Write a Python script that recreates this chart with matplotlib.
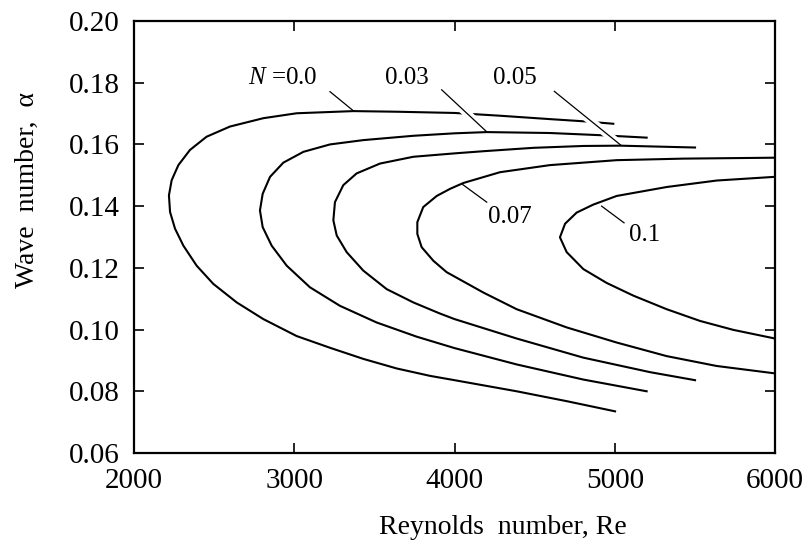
import matplotlib
matplotlib.use("Agg")
import matplotlib.pyplot as plt

plt.rcParams['font.family'] = ['Liberation Serif', 'DejaVu Serif']
plt.rcParams['mathtext.fontset'] = 'custom'
plt.rcParams['mathtext.rm'] = 'Liberation Serif'
plt.rcParams['mathtext.it'] = 'Liberation Serif:italic'

# Neutral stability curves (Re, alpha), traced lower branch -> nose -> upper branch
re_n000 = [5002, 4700, 4388, 4000, 3847, 3639, 3431, 3223, 3015, 2807, 2641, 2495, 2391, 2308, 2256, 2225,
           2218, 2235, 2277, 2349, 2453, 2599, 2807, 3015, 3369, 3639, 4000, 4284, 4596, 4804, 4991]
al_n000 = [0.0735, 0.0768, 0.0800, 0.0836, 0.0850, 0.0874, 0.0905, 0.0941, 0.0979, 0.1034, 0.1088, 0.1148, 0.1207, 0.1272, 0.1327, 0.1381,
           0.1435, 0.1484, 0.1533, 0.1582, 0.1625, 0.1658, 0.1685, 0.1701, 0.1708, 0.1706, 0.1702, 0.1693, 0.1682, 0.1675, 0.1667]

re_n003 = [5199, 4804, 4388, 4000, 3764, 3514, 3285, 3098, 2953, 2859, 2803, 2786, 2803, 2849, 2932, 3057, 3223,
           3431, 3743, 4000, 4201, 4596, 4908, 5199]
al_n003 = [0.0800, 0.0838, 0.0887, 0.0940, 0.0977, 0.1023, 0.1077, 0.1137, 0.1207, 0.1272, 0.1332, 0.1386, 0.1440, 0.1495, 0.1541, 0.1576, 0.1600,
           0.1614, 0.1628, 0.1636, 0.1640, 0.1637, 0.1630, 0.1622]

re_n005 = [5501, 5220, 4804, 4388, 4000, 3909, 3743, 3577, 3431, 3327, 3265, 3244, 3254, 3306, 3389, 3535, 3743,
           4000, 4180, 4492, 4804, 5033, 5501]
al_n005 = [0.0836, 0.0862, 0.0909, 0.0971, 0.1034, 0.1052, 0.1088, 0.1131, 0.1191, 0.1251, 0.1305, 0.1354, 0.1413, 0.1468, 0.1506, 0.1538, 0.1560,
           0.1571, 0.1578, 0.1589, 0.1595, 0.1596, 0.1590]

re_n007 = [6000, 5636, 5324, 5012, 4700, 4388, 4180, 3951, 3868, 3795, 3768, 3768, 3805, 3889, 3972, 4055, 4284,
           4596, 5012, 5428, 6000]
al_n007 = [0.0858, 0.0882, 0.0914, 0.0958, 0.1007, 0.1066, 0.1120, 0.1186, 0.1223, 0.1267, 0.1310, 0.1348, 0.1397, 0.1433, 0.1456, 0.1475, 0.1510,
           0.1533, 0.1549, 0.1554, 0.1557]

re_n010 = [6000, 5740, 5532, 5324, 5116, 4950, 4804, 4700, 4658, 4690, 4762, 4866, 5012, 5324, 5636, 6000]
al_n010 = [0.0971, 0.0999, 0.1028, 0.1066, 0.1110, 0.1151, 0.1196, 0.1251, 0.1299, 0.1343, 0.1379, 0.1405, 0.1433, 0.1462, 0.1483, 0.1495]

curves = [(re_n000, al_n000), (re_n003, al_n003), (re_n005, al_n005), (re_n007, al_n007), (re_n010, al_n010)]

# Curve labels: text, text position, leader line start/end
label_texts = [r"$N$ =0.0", "0.03", "0.05", "0.07", "0.1"]
label_re = [2926, 3700, 4374, 4346, 5189]
label_al = [0.1815, 0.1815, 0.1815, 0.1365, 0.1305]
leader_re = [(3223, 3369), (3920, 4201), (4623, 5037), (4051, 4201), (4918, 5058)]
leader_al = [(0.1771, 0.1709), (0.1777, 0.1641), (0.1772, 0.1598), (0.1470, 0.1413), (0.1400, 0.1346)]
# portion (fraction along leader) where it cuts through other curves
leader_cut = [None, (0.45, 0.75), (0.45, 0.92), None, None]

x_ticks = [2000, 3000, 4000, 5000, 6000]
y_ticks = [0.06, 0.08, 0.10, 0.12, 0.14, 0.16, 0.18, 0.20]

fig = plt.figure(figsize=(8.08, 5.47), dpi=100)
ax = fig.add_axes([134 / 808, 1 - 453 / 547, 641 / 808, 432 / 547])

for re, al in curves:
    ax.plot(re, al, color='black', lw=1.5, solid_joinstyle='round', zorder=2)

for (x0, x1), (y0, y1), cut in zip(leader_re, leader_al, leader_cut):
    if cut is not None:
        a, b = cut
        ax.plot([x0 + a * (x1 - x0), x0 + b * (x1 - x0)],
                [y0 + a * (y1 - y0), y0 + b * (y1 - y0)],
                color='white', lw=6, solid_capstyle='butt', zorder=3)
    ax.plot([x0, x1], [y0, y1], color='black', lw=0.9, zorder=4)

for t, x, y in zip(label_texts, label_re, label_al):
    ax.text(x, y, t, fontsize=18, ha='center', va='center')

ax.set_xlim(2000, 6000)
ax.set_ylim(0.06, 0.20)
ax.set_xticks(x_ticks)
ax.set_yticks(y_ticks)
ax.set_xticklabels([str(v) for v in x_ticks])
ax.set_yticklabels([f"{v:.2f}" for v in y_ticks])
ax.tick_params(direction='in', length=7, width=1.2, labelsize=21,
               top=True, right=True)
ax.tick_params(axis='y', pad=10)
ax.tick_params(axis='x', pad=11)
for s in ax.spines.values():
    s.set_linewidth(1.6)
    s.set_zorder(5)

fig.text(503 / 808, 1 - 528 / 547, "Reynolds  number, Re", fontsize=20,
         ha='center', va='center')
fig.text(27 / 808, 1 - 190 / 547, "Wave  number,  α", fontsize=20,
         ha='center', va='center', rotation=90)

fig.savefig("out.png", dpi=100)
